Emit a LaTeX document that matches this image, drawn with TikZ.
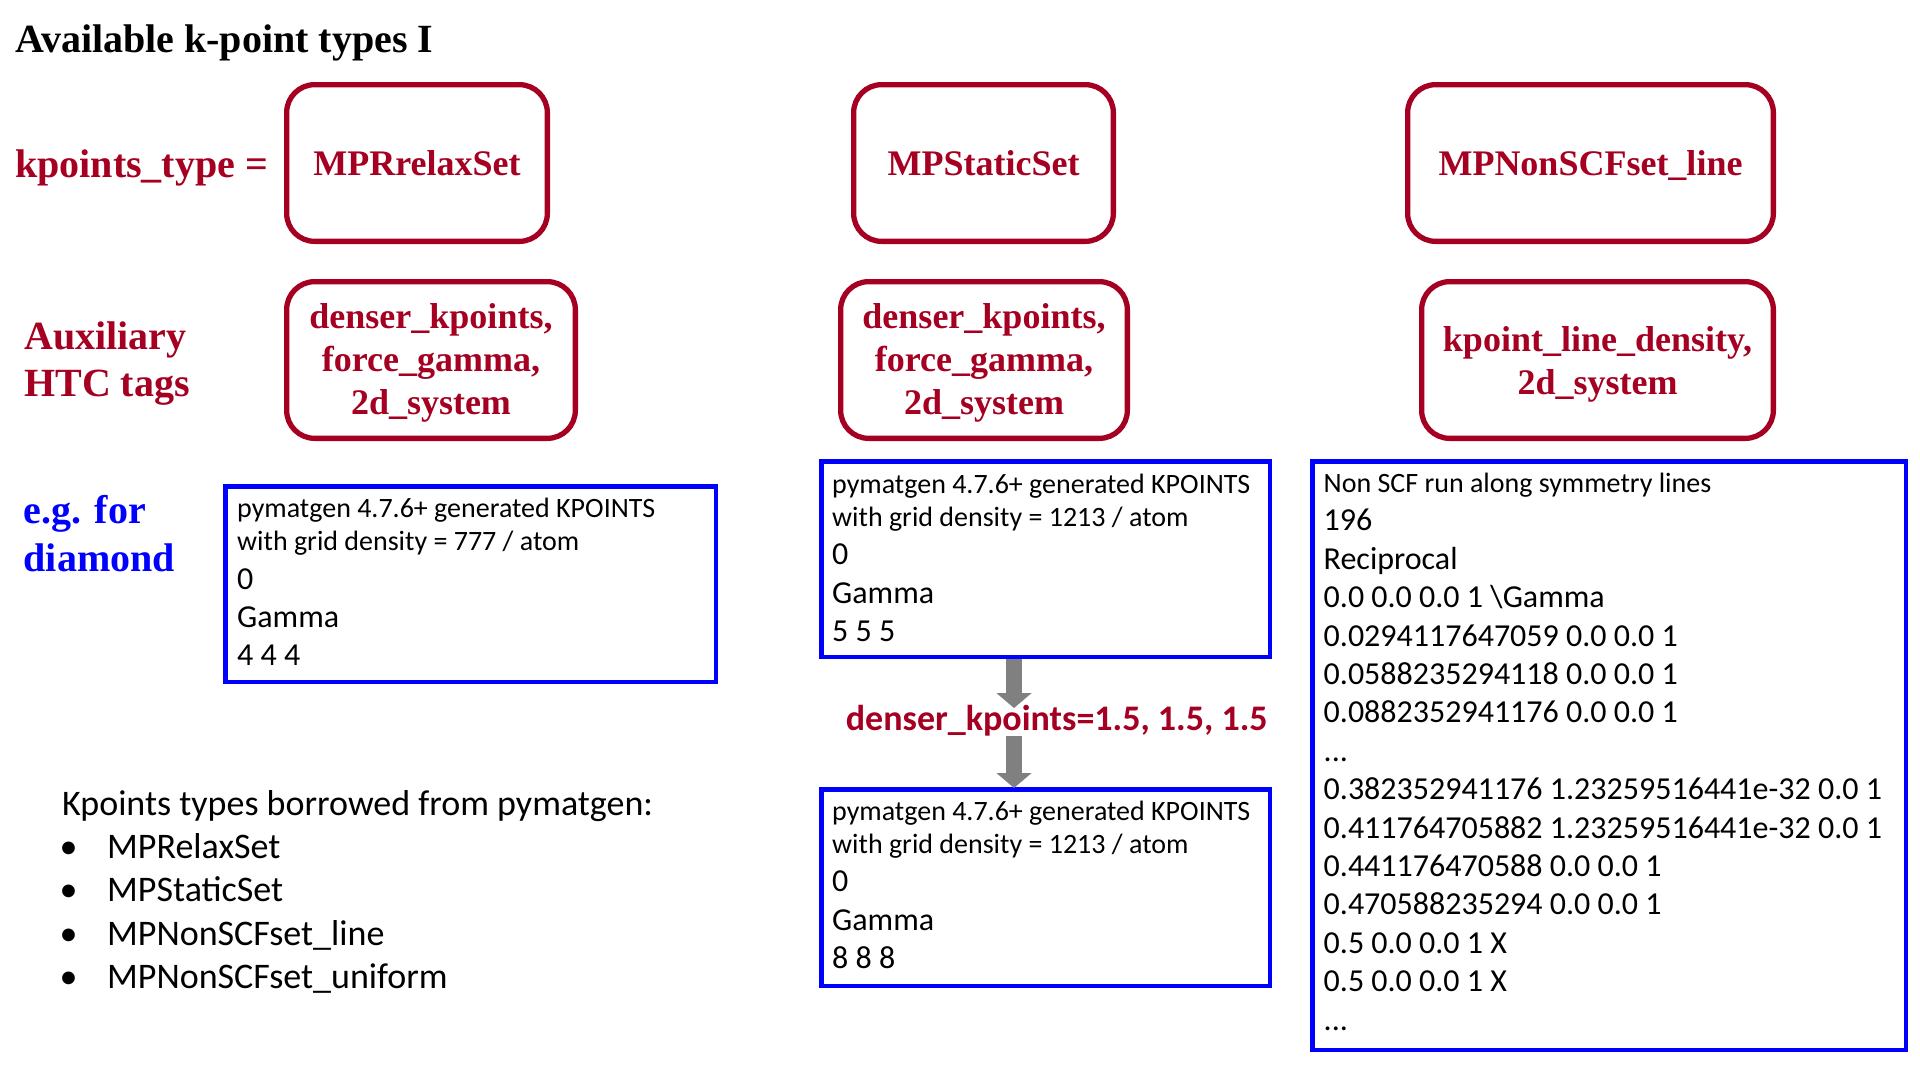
\documentclass[tikz,border=0pt]{standalone}
\usepackage{fontspec}
\setmainfont{Liberation Serif}
\newfontfamily\carlito{Carlito}
\usetikzlibrary{arrows.meta,calc}
\definecolor{dred}{HTML}{A50021}
\definecolor{kblue}{HTML}{0000FF}
\definecolor{agray}{HTML}{808080}
\newcommand\natsp{\spaceskip=0pt\xspaceskip=0pt\relax}
\begin{document}
\begin{tikzpicture}[x=1pt,y=-1pt,
  redbox/.style={draw=dred, line width=5.3pt, rounded corners=28pt, inner sep=0pt,
    text=dred, font=\bfseries\fontsize{36}{43.3}\selectfont,
    text height=24pt, text depth=0pt},
  redtxt/.style={text=dred, font=\bfseries\fontsize{36}{43.3}\selectfont,
    anchor=base, inner sep=0pt, text width=360pt, align=center},
  redlbl/.style={text=dred, font=\bfseries\fontsize{40}{46.5}\selectfont,
    anchor=base west, inner sep=0pt, text width=260pt, align=left},
  bluelbl/.style={text=kblue, font=\bfseries\fontsize{40}{48}\selectfont,
    anchor=base west, inner sep=0pt, text width=200pt, align=left},
  bluebox/.style={draw=kblue, line width=4.5pt, inner sep=0pt},
  kptext/.style={font=\carlito\fontsize{32}{38.4}\selectfont, anchor=base west, inner sep=0pt, align=left},
  blockarrow/.style={draw=agray, line width=16.7pt,
    -{Triangle[width=34.3pt, length=15pt, fill=agray]}},
]
\fill[white] (0,0) rectangle (1920,1080);
\useasboundingbox (0,0) rectangle (1920,1080);

% title
\node[anchor=base west, inner sep=0pt, font=\bfseries\fontsize{40}{46}\selectfont] (title) at (15,52) {Available k-point types I};

% row labels
\node[redlbl] (lblkt) at (15,177) {\natsp kpoints\_type =\par};
\node[redlbl] (lblaux) at (24,349.5) {\natsp Auxiliary\par HTC tags\par};
\node[bluelbl] (lbleg) at (23.5,523.5) {\natsp e.g. for\par diamond\par};

% kpoints_type boxes
\node[redbox, minimum width=260.7pt, minimum height=156.7pt] (kt1) at (417,163) {MPRrelaxSet};
\node[redbox, minimum width=259.7pt, minimum height=156.7pt] (kt2) at (983.5,163) {MPStaticSet};
\node[redbox, minimum width=365.7pt, minimum height=156.7pt] (kt3) at (1590.5,163) {MPNonSCFset\_line};

% auxiliary tag boxes
\node[redbox, minimum width=288.7pt, minimum height=156.7pt] (aux1) at (431,360) {};
\node[redbox, minimum width=286.7pt, minimum height=156.7pt] (aux2) at (984,360) {};
\node[redbox, minimum width=351.7pt, minimum height=156.7pt] (aux3) at (1597.5,360) {};
\node[redtxt] (aux1t) at (431,328.3) {denser\_kpoints,\par force\_gamma,\par 2d\_system\par};
\node[redtxt] (aux2t) at (984,328.3) {denser\_kpoints,\par force\_gamma,\par 2d\_system\par};
\node[redtxt] (aux3t) at (1597.5,351.3) {kpoint\_line\_density,\par 2d\_system\par};

% KPOINTS boxes
\node[bluebox, minimum width=490.5pt, minimum height=195.5pt] (kp1) at (470.5,584) {};
\node[bluebox, minimum width=448.5pt, minimum height=195.5pt] (kp2) at (1045.5,559) {};
\node[bluebox, minimum width=448.5pt, minimum height=196.5pt] (kp3) at (1045.5,887.5) {};
\node[bluebox, minimum width=593.5pt, minimum height=588.5pt] (kp4) at (1609,755.5) {};

\node[kptext, text width=470pt] (kp1t) at (237,517.3) {\natsp{\fontsize{28}{33.4}\selectfont pymatgen 4.7.6+ generated KPOINTS\par with grid density = 777 / atom\par}0\par Gamma\par 4 4 4\par};
\node[kptext, text width=430pt] (kp2t) at (832,493) {\natsp{\fontsize{28}{33.4}\selectfont pymatgen 4.7.6+ generated KPOINTS\par with grid density = 1213 / atom\par}0\par Gamma\par 5 5 5\par};
\node[kptext, text width=430pt] (kp3t) at (832,820) {\natsp{\fontsize{28}{33.4}\selectfont pymatgen 4.7.6+ generated KPOINTS\par with grid density = 1213 / atom\par}0\par Gamma\par 8 8 8\par};
\node[kptext, text width=580pt] (kp4t) at (1323.5,492.4) {\natsp{\fontsize{28}{33.4}\selectfont Non SCF run along symmetry lines\par}196\par Reciprocal\par 0.0 0.0 0.0 1 \textbackslash Gamma\par 0.0294117647059 0.0 0.0 1\par 0.0588235294118 0.0 0.0 1\par 0.0882352941176 0.0 0.0 1\par ...\par 0.382352941176 1.23259516441e-32 0.0 1\par 0.411764705882 1.23259516441e-32 0.0 1\par 0.441176470588 0.0 0.0 1\par 0.470588235294 0.0 0.0 1\par 0.5 0.0 0.0 1 X\par 0.5 0.0 0.0 1 X\par ...\par};

% denser_kpoints label and arrows
\node[anchor=base west, inner sep=0pt, text=dred, font=\carlito\bfseries\fontsize{36}{43}\selectfont] (dk) at (845.7,730.5) {denser\_kpoints=1.5, 1.5, 1.5};
\coordinate (ax) at (1014,700);
\draw[blockarrow] (kp2.south -| ax) -- ([yshift=-3pt]dk.north -| ax);
\draw[blockarrow] (dk.south -| ax) -- ([yshift=-1pt]kp3.north -| ax);

% borrowed list
\node[kptext, text width=620pt, font=\carlito\fontsize{36}{43.2}\selectfont] (list) at (62,815.5) {\natsp Kpoints types borrowed from pymatgen:\par
\makebox[13pt][c]{\textbullet}\hspace{32pt}MPRelaxSet\par
\makebox[13pt][c]{\textbullet}\hspace{32pt}MPStaticSet\par
\makebox[13pt][c]{\textbullet}\hspace{32pt}MPNonSCFset\_line\par
\makebox[13pt][c]{\textbullet}\hspace{32pt}MPNonSCFset\_uniform\par};
\end{tikzpicture}
\end{document}
